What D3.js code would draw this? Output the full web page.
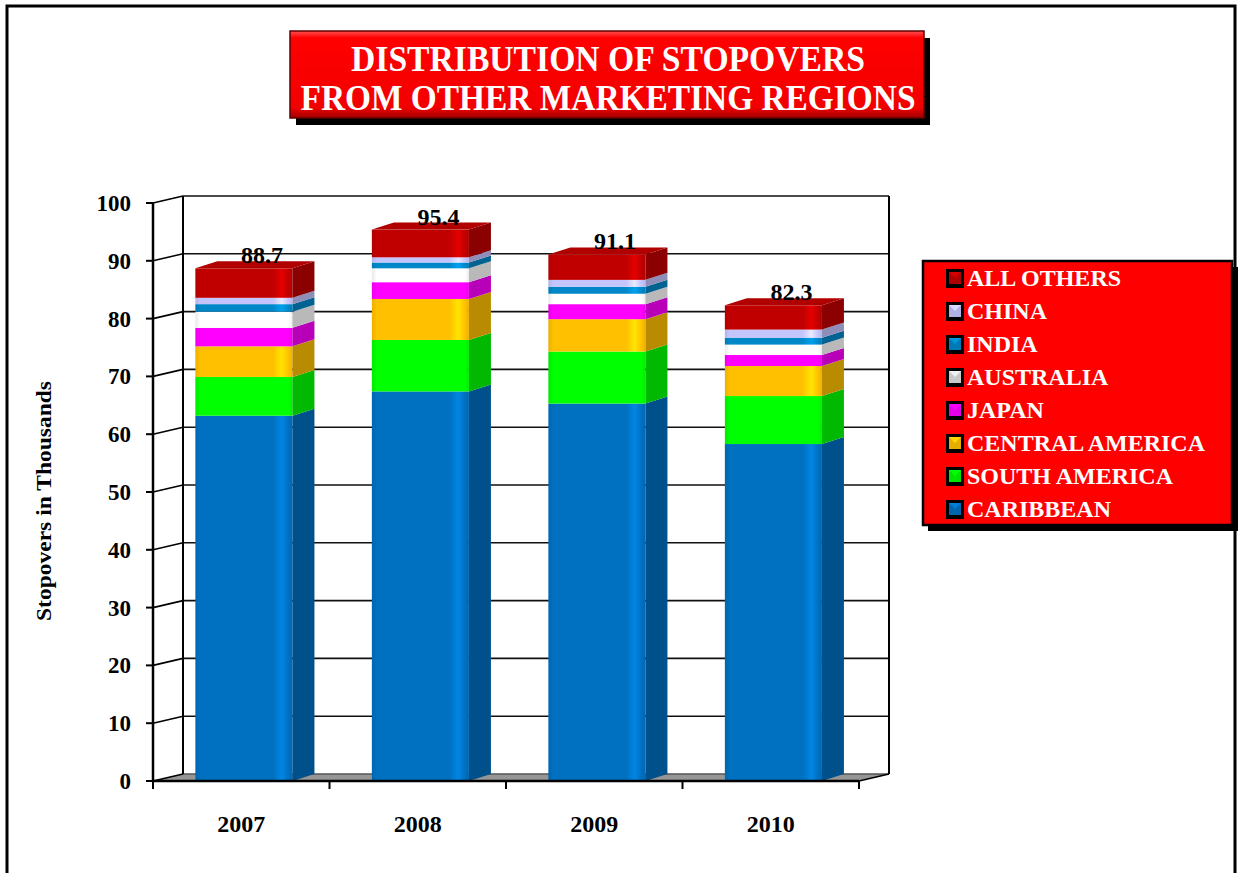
<!DOCTYPE html>
<html>
<head>
<meta charset="utf-8">
<script src="https://cdn.jsdelivr.net/npm/d3@7"></script>
<style>
  html, body { margin: 0; padding: 0; background: #fff; }
  svg { display: block; }
  text { font-family: "Liberation Serif", "Times New Roman", serif; font-weight: bold; }
</style>
</head>
<body>
<script>
// ---- data ----
const years = ["2007", "2008", "2009", "2010"];
const caribbean      = [63.2, 67.4, 65.3, 58.3];
const southAmerica   = [6.7, 8.9, 9.0, 8.3];
const centralAmerica = [5.3, 7.1, 5.6, 5.2];
const japan          = [3.2, 2.9, 2.6, 1.9];
const australia      = [2.8, 2.4, 1.8, 1.8];
const india          = [1.3, 1.0, 1.2, 1.2];
const china          = [1.1, 0.9, 1.2, 1.4];
const allOthers      = [5.1, 4.8, 4.4, 4.2];
const totals         = [88.7, 95.4, 91.1, 82.3];
const seriesNames  = ["CARIBBEAN", "SOUTH AMERICA", "CENTRAL AMERICA", "JAPAN", "AUSTRALIA", "INDIA", "CHINA", "ALL OTHERS"];
const seriesColors = ["#0070C0", "#00FF00", "#FFC000", "#FF00FF", "#FFFFFF", "#0087C8", "#C4C4FF", "#C00000"];
const yTicks = [0, 10, 20, 30, 40, 50, 60, 70, 80, 90, 100];
const titleLines = ["DISTRIBUTION OF STOPOVERS", "FROM OTHER MARKETING REGIONS"];
const yTitle = "Stopovers in Thousands";

const seriesValues = [caribbean, southAmerica, centralAmerica, japan, australia, india, china, allOthers];
const rows = years.map((yr, i) => {
  const r = { year: yr };
  seriesNames.forEach((n, s) => r[n] = seriesValues[s][i]);
  return r;
});
const stacked = d3.stack().keys(seriesNames)(rows);

// ---- layout ----
const W = 1240, H = 873;
const svg = d3.select("body").append("svg").attr("width", W).attr("height", H);
const defs = svg.append("defs");

// outer frame
svg.append("rect").attr("x", 7).attr("y", 6).attr("width", 1228).attr("height", 880)
  .attr("fill", "none").attr("stroke", "#000").attr("stroke-width", 3);

const x = d3.scaleBand().domain(years).range([153, 859]).padding(0);
const y = d3.scaleLinear().domain([0, 100]).range([781, 203]);
const wallDX = 30, wallDY = -7;
const barDX = 22, barDY = -7;

// floor
const x0 = x.range()[0], x1 = x.range()[1];
svg.append("path")
  .attr("d", `M${x0},${y(0)}L${x1},${y(0)}L${x1 + wallDX},${y(0) + wallDY}L${x0 + wallDX},${y(0) + wallDY}Z`)
  .attr("fill", "#969696");

// back wall gridlines
const grid = svg.append("g");
yTicks.forEach(t => {
  grid.append("line")
    .attr("x1", x0 + wallDX).attr("x2", x1 + wallDX)
    .attr("y1", y(t) + wallDY).attr("y2", y(t) + wallDY)
    .attr("stroke", t === 0 ? "#555" : "#111").attr("stroke-width", 1.6);
  grid.append("line")
    .attr("x1", x0).attr("x2", x0 + wallDX)
    .attr("y1", y(t)).attr("y2", y(t) + wallDY)
    .attr("stroke", "#000").attr("stroke-width", 1.6);
});
[x0 + wallDX, x1 + wallDX].forEach(xx => {
  grid.append("line").attr("x1", xx).attr("x2", xx)
    .attr("y1", y(100) + wallDY).attr("y2", y(0) + wallDY)
    .attr("stroke", "#000").attr("stroke-width", 2);
});
grid.append("line").attr("x1", x1).attr("x2", x1 + wallDX)
  .attr("y1", y(0)).attr("y2", y(0) + wallDY).attr("stroke", "#000").attr("stroke-width", 1.6);

// gradients
seriesColors.forEach((c, i) => {
  const g = defs.append("linearGradient").attr("id", "grad" + i)
    .attr("x1", "0%").attr("x2", "100%").attr("y1", "0%").attr("y2", "0%");
  const base = d3.color(c);
  g.append("stop").attr("offset", "0%").attr("stop-color", base.darker(0.25));
  g.append("stop").attr("offset", "5%").attr("stop-color", base);
  g.append("stop").attr("offset", "80%").attr("stop-color", base);
  g.append("stop").attr("offset", "89%").attr("stop-color", base.brighter(0.5));
  g.append("stop").attr("offset", "96%").attr("stop-color", base);
  g.append("stop").attr("offset", "100%").attr("stop-color", base.darker(0.2));
});

// bars
const step = x.step();
const barOff = step * 0.24, barW = step * 0.55;
const bars = svg.append("g");
stacked.forEach((layer, s) => {
  const col = d3.color(seriesColors[s]);
  layer.forEach((d, i) => {
    const bx = x(years[i]) + barOff;
    const yT = y(d[1]), yB = y(d[0]);
    bars.append("rect").attr("x", bx).attr("y", yT).attr("width", barW).attr("height", yB - yT)
      .attr("fill", `url(#grad${s})`);
    bars.append("path")
      .attr("d", `M${bx + barW},${yT}L${bx + barW + barDX},${yT + barDY}L${bx + barW + barDX},${yB + barDY}L${bx + barW},${yB}Z`)
      .attr("fill", col.darker(0.9));
  });
});
// top faces
const topLayer = stacked[stacked.length - 1];
topLayer.forEach((d, i) => {
  const bx = x(years[i]) + barOff;
  const yT = y(d[1]);
  bars.append("path")
    .attr("d", `M${bx},${yT}L${bx + barW},${yT}L${bx + barW + barDX},${yT + barDY}L${bx + barDX},${yT + barDY}Z`)
    .attr("fill", "#B00000");
});

// value labels
svg.append("g").selectAll("text").data(totals).join("text")
  .attr("x", (v, i) => x(years[i]) + barOff + (barW + barDX) / 2 + 7)
  .attr("y", v => y(v) - 5)
  .attr("text-anchor", "middle").attr("font-size", 24).attr("fill", "#000")
  .text(v => v.toFixed(1));

// front y axis
const axisG = svg.append("g");
axisG.append("line").attr("x1", x0).attr("x2", x0).attr("y1", y(100)).attr("y2", y(0))
  .attr("stroke", "#000").attr("stroke-width", 2.5);
yTicks.forEach(t => {
  axisG.append("line").attr("x1", x0 - 7).attr("x2", x0).attr("y1", y(t)).attr("y2", y(t))
    .attr("stroke", "#000").attr("stroke-width", 2);
  axisG.append("text").attr("x", 131).attr("y", y(t)).attr("dy", "0.35em")
    .attr("text-anchor", "end").attr("font-size", 23).text(t);
});
// front x axis
axisG.append("line").attr("x1", x0).attr("x2", x1).attr("y1", y(0)).attr("y2", y(0))
  .attr("stroke", "#000").attr("stroke-width", 2.5);
[...years.map(yr => x(yr)), x1].forEach(xx => {
  axisG.append("line").attr("x1", xx).attr("x2", xx).attr("y1", y(0)).attr("y2", y(0) + 8)
    .attr("stroke", "#000").attr("stroke-width", 2);
});
years.forEach(yr => {
  axisG.append("text").attr("x", x(yr) + step / 2).attr("y", 832)
    .attr("text-anchor", "middle").attr("font-size", 24).text(yr);
});

// y title
svg.append("text").attr("transform", "translate(51,501) rotate(-90)")
  .attr("text-anchor", "middle").attr("font-size", 22)
  .attr("textLength", 240).attr("lengthAdjust", "spacingAndGlyphs").text(yTitle);

// title box
const tg = defs.append("linearGradient").attr("id", "titleGrad")
  .attr("x1", "0%").attr("x2", "0%").attr("y1", "0%").attr("y2", "100%");
tg.append("stop").attr("offset", "0%").attr("stop-color", "#FF5050");
tg.append("stop").attr("offset", "8%").attr("stop-color", "#FF0000");
tg.append("stop").attr("offset", "88%").attr("stop-color", "#F20000");
tg.append("stop").attr("offset", "100%").attr("stop-color", "#A00000");
svg.append("rect").attr("x", 296).attr("y", 38).attr("width", 634).attr("height", 87).attr("fill", "#000");
svg.append("rect").attr("x", 290).attr("y", 31).attr("width", 634).attr("height", 87)
  .attr("fill", "url(#titleGrad)").attr("stroke", "#600000").attr("stroke-width", 1.5);
const titleWidths = [514, 615];
titleLines.forEach((t, i) => {
  svg.append("text").attr("x", 608).attr("y", 71 + i * 39)
    .attr("text-anchor", "middle").attr("font-size", 35).attr("fill", "#fff")
    .attr("textLength", titleWidths[i]).attr("lengthAdjust", "spacingAndGlyphs")
    .text(t);
});

// legend
svg.append("rect").attr("x", 928).attr("y", 267).attr("width", 310).attr("height", 264).attr("fill", "#000");
svg.append("rect").attr("x", 923).attr("y", 261).attr("width", 309).attr("height", 264)
  .attr("fill", "#FF0000").attr("stroke", "#000").attr("stroke-width", 2.5);
const legOrder = d3.range(seriesNames.length).reverse();
legOrder.forEach((s, k) => {
  const cy = 278 + k * 33;
  const c = d3.color(seriesColors[s]);
  const mx = 947, ms = 16;
  svg.append("rect").attr("x", mx - 1).attr("y", cy - ms / 2 - 1).attr("width", ms + 2).attr("height", ms + 3).attr("fill", "#000");
  svg.append("rect").attr("x", mx + 2).attr("y", cy - ms / 2 + 2).attr("width", ms - 4).attr("height", ms - 4)
    .attr("fill", s === 4 ? "#C8C8C8" : c.darker(0.3));
  svg.append("path")
    .attr("d", `M${mx + 2},${cy - ms / 2 + 2}L${mx + ms - 2},${cy - ms / 2 + 2}L${mx + ms / 2},${cy}Z`)
    .attr("fill", s === 4 ? "#F0F0F0" : c.brighter(0.3));
  svg.append("text").attr("x", 967).attr("y", cy).attr("dy", "0.35em")
    .attr("font-size", 24).attr("fill", "#fff").text(seriesNames[s]);
});
</script>
</body>
</html>
